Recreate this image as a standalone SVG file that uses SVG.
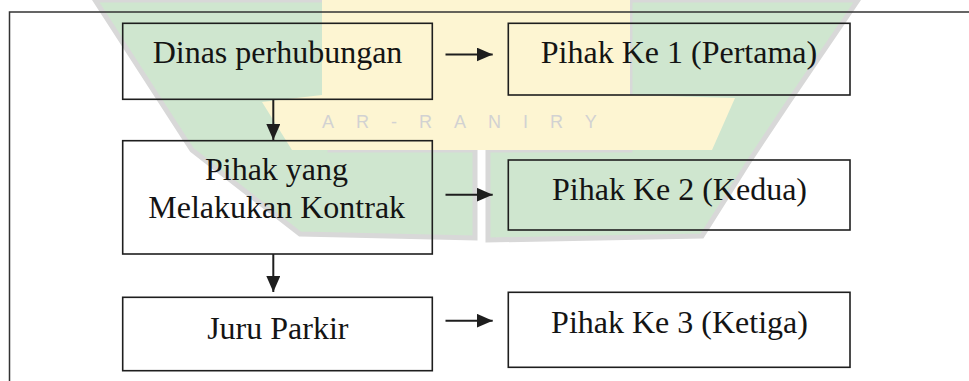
<svg xmlns="http://www.w3.org/2000/svg" width="969" height="381" viewBox="0 0 969 381">
<style>
.box{fill:none;stroke:#1e1e1e;stroke-width:1.6}
.lbl{font-family:"Liberation Serif","Times New Roman",serif;font-size:32px;fill:#141414;text-anchor:middle}
.wire{stroke:#1e1e1e;stroke-width:2;fill:none}
.wm-g{fill:#cfe6cf;stroke:#d8d8d8;stroke-width:5}
.wm-y{fill:#fdf5d2}
.wm-t{font-family:"Liberation Sans",Arial,sans-serif;font-size:18px;fill:#d2d2d2;letter-spacing:22px}
</style>
<defs>
<marker id="ah" markerUnits="userSpaceOnUse" markerWidth="16" markerHeight="14" refX="16" refY="7" orient="auto">
<path d="M0,0 L16,7 L0,14 z" fill="#1e1e1e"/>
</marker>
</defs>
<rect width="969" height="381" fill="#ffffff"/>
<g id="watermark">
<polygon class="wm-g" points="95,0 330,0 330,150 475,150 475,238 300,234 192,150"/>
<polygon class="wm-g" points="630,0 858,0 790,100 750,160 702,236 488,240 488,150 630,150"/>
<polygon class="wm-y" points="322,0 630,0 630,95 735,98 712,150 292,150 262,102 322,95"/>
<text class="wm-t" x="322" y="128">AR-RANIRY</text>
</g>
<path d="M9.5,381 V12 H969" fill="none" stroke="#333" stroke-width="1.5"/>
<g id="connectors">
<line class="wire" x1="273.3" y1="99" x2="273.3" y2="140" marker-end="url(#ah)"/>
<line class="wire" x1="273.3" y1="254" x2="273.3" y2="292" marker-end="url(#ah)"/>
<line class="wire" x1="445.5" y1="54.5" x2="492.7" y2="54.5" marker-end="url(#ah)"/>
<line class="wire" x1="445.5" y1="194.7" x2="492.7" y2="194.7" marker-end="url(#ah)"/>
<line class="wire" x1="445.5" y1="320.7" x2="492.7" y2="320.7" marker-end="url(#ah)"/>
</g>
<g id="dinas">
<rect class="box" x="122.7" y="23.3" width="309.6" height="76"/>
<text class="lbl" x="277.5" y="63">Dinas perhubungan</text>
</g>
<g id="pihak1">
<rect class="box" x="508.3" y="23.3" width="341.7" height="71.7"/>
<text class="lbl" x="679" y="63.3">Pihak Ke 1 (Pertama)</text>
</g>
<g id="kontrak">
<rect class="box" x="122.7" y="140.7" width="309.6" height="113.3"/>
<text class="lbl" x="276.5" y="180">Pihak yang</text>
<text class="lbl" x="276.7" y="217.7">Melakukan Kontrak</text>
</g>
<g id="pihak2">
<rect class="box" x="508.3" y="160" width="341.7" height="70"/>
<text class="lbl" x="679.5" y="200">Pihak Ke 2 (Kedua)</text>
</g>
<g id="juru">
<rect class="box" x="122.7" y="297.3" width="309.6" height="73.4"/>
<text class="lbl" x="277.8" y="339.3">Juru Parkir</text>
</g>
<g id="pihak3">
<rect class="box" x="508.3" y="292.3" width="341.7" height="75"/>
<text class="lbl" x="679.5" y="333">Pihak Ke 3 (Ketiga)</text>
</g>
</svg>
